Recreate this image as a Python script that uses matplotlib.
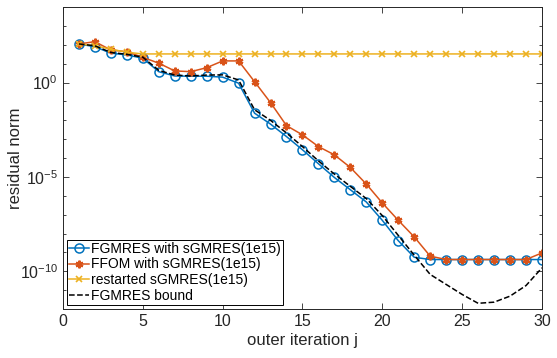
import numpy as np
import matplotlib
matplotlib.use("Agg")
import matplotlib.pyplot as plt
from matplotlib.ticker import FixedLocator, LogFormatterSciNotation, NullFormatter

plt.rcParams['font.family'] = ['Liberation Sans', 'DejaVu Sans']
plt.rcParams['mathtext.fontset'] = 'custom'
plt.rcParams['mathtext.rm'] = 'Liberation Sans'

j = np.arange(1, 31)

# log10 of residual norms
fgmres_log = [2.05, 1.9, 1.56, 1.47, 1.29, 0.58, 0.35, 0.34, 0.34, 0.29,
              -0.03, -1.62, -2.2, -2.86, -3.56, -4.3, -5.03, -5.68, -6.33, -7.3,
              -8.38, -9.26, -9.38, -9.38, -9.38, -9.38, -9.38, -9.38, -9.38, -9.38]
ffom_log = [2.05, 2.17, 1.73, 1.64, 1.34, 1.03, 0.62, 0.58, 0.79, 1.15,
            1.15, 0.05, -1.06, -2.28, -2.77, -3.39, -3.83, -4.5, -5.38, -6.38,
            -7.3, -8.18, -9.2, -9.38, -9.38, -9.38, -9.38, -9.38, -9.38, -9.03]
restart_log = [2.05, 1.96, 1.77, 1.61] + [1.52] * 26
bound_log = [2.05, 1.95, 1.6, 1.5, 1.35, 0.65, 0.4, 0.35, 0.4, 0.41,
             0.14, -1.44, -2.0, -2.67, -3.39, -4.15, -4.85, -5.5, -6.15, -7.05,
             -8.1, -9.15, -10.17, -10.7, -11.23, -11.7, -11.64, -11.32, -10.76, -9.82]

fgmres = 10.0 ** np.array(fgmres_log)
ffom = 10.0 ** np.array(ffom_log)
restart = 10.0 ** np.array(restart_log)
bound = 10.0 ** np.array(bound_log)

fig = plt.figure(figsize=(5.57, 3.58), dpi=100)
ax = fig.add_axes([0.113, 0.137, 0.860, 0.843])

ax.plot(j, fgmres, '-o', color='#0072BD', lw=1.1, ms=6.5, mfc='none', mew=1.1,
        label='FGMRES with sGMRES(1e15)')
ax.plot(j, ffom, '-', color='#D95319', lw=1.1, marker=(6, 2, 0), ms=5.5, mew=1.6,
        label='FFOM with sGMRES(1e15)')
ax.plot(j, restart, '-x', color='#EDB120', lw=1.1, ms=4.5, mew=1.2,
        label='restarted sGMRES(1e15)')
ax.plot(j, bound, '--', color='black', lw=1.1, label='FGMRES bound')

ax.set_yscale('log')
ax.set_xlim(0, 30)
ax.set_ylim(1e-12, 1e4)
ax.set_xticks([0, 5, 10, 15, 20, 25, 30])
ax.yaxis.set_major_locator(FixedLocator([1e-10, 1e-5, 1e0]))
ax.yaxis.set_major_formatter(LogFormatterSciNotation())
ax.yaxis.set_minor_locator(FixedLocator([10.0 ** k for k in range(-12, 5)]))
ax.yaxis.set_minor_formatter(NullFormatter())

ax.tick_params(which='both', direction='in', top=True, right=True,
               colors='#262626', labelcolor='#262626', labelsize=11.5, width=0.6)
ax.tick_params(which='major', length=4)
ax.tick_params(which='minor', length=2.5)
for s in ax.spines.values():
    s.set_color('#262626')
    s.set_linewidth(0.7)

ax.set_xlabel('outer iteration j', fontsize=12, color='#262626', labelpad=3)
ax.set_ylabel('residual norm', fontsize=12, color='#262626')
ax.yaxis.set_label_coords(-0.083, 0.5)

leg = ax.legend(loc='lower left', fontsize=10, handlelength=1.4, handletextpad=0.2,
                borderpad=0.15, labelspacing=0.12, borderaxespad=0.3, fancybox=False,
                framealpha=1)
leg.get_frame().set_edgecolor('black')
leg.get_frame().set_linewidth(0.7)

fig.savefig('out.png', dpi=100)
